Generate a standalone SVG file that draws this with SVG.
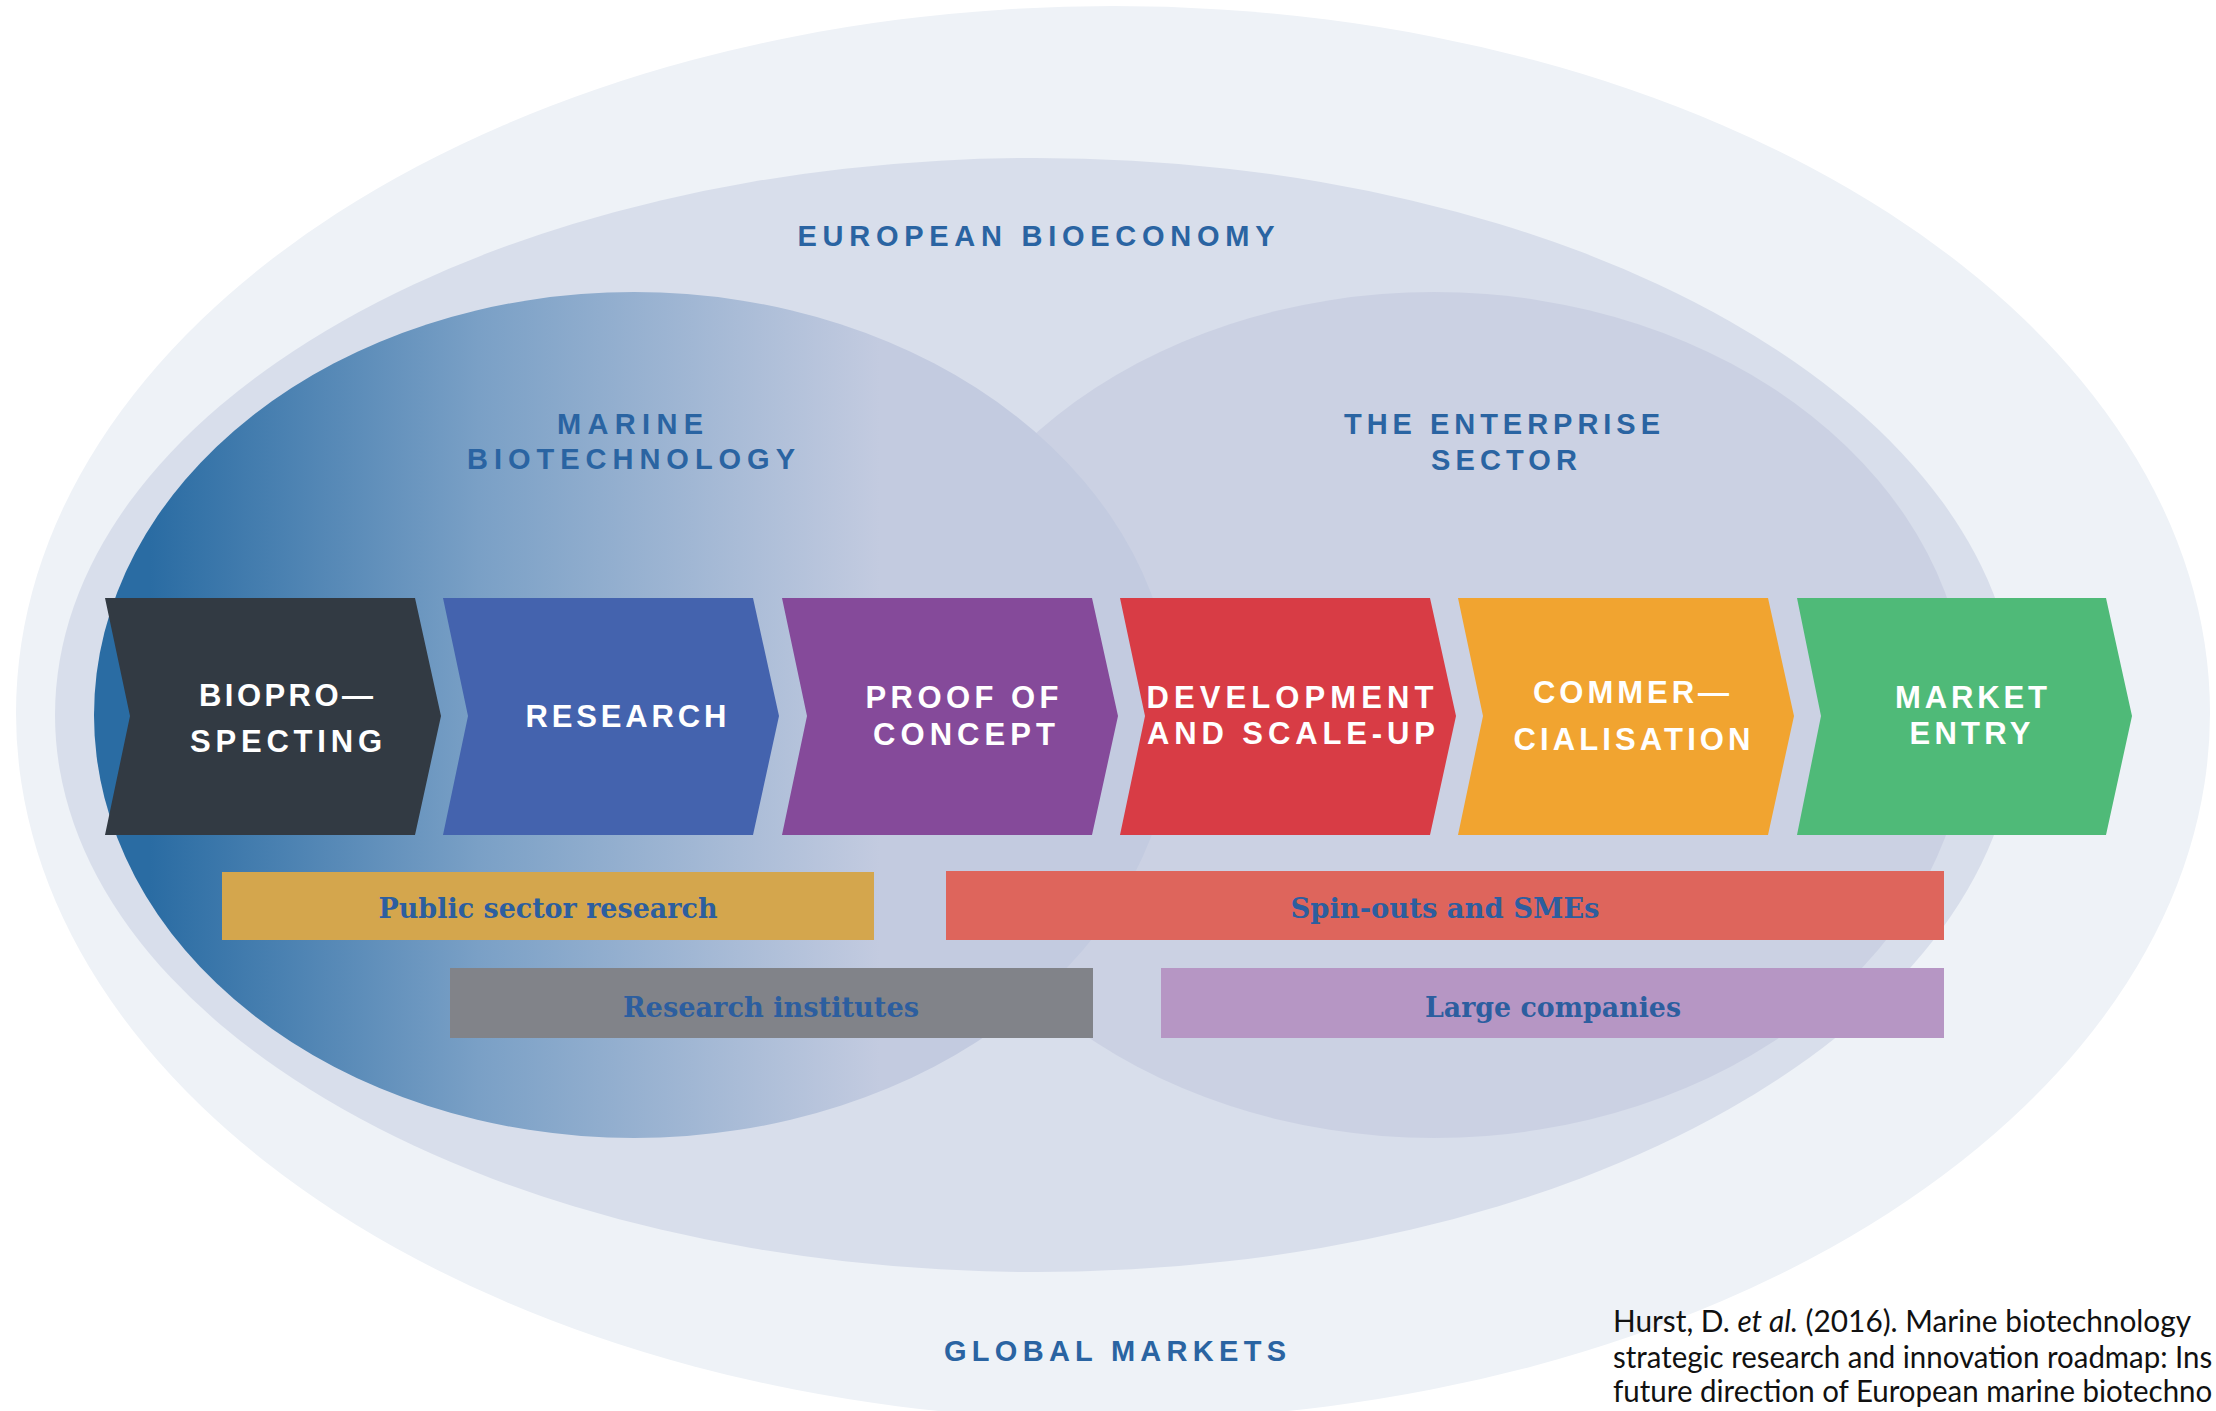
<svg xmlns="http://www.w3.org/2000/svg" width="2216" height="1411" viewBox="0 0 2216 1411">
  <defs>
    <linearGradient id="marineGrad" gradientUnits="userSpaceOnUse" x1="150" y1="0" x2="880" y2="0">
      <stop offset="0" stop-color="#2a6ca3"/>
      <stop offset="0.45" stop-color="#7aa0c6"/>
      <stop offset="1" stop-color="#c3cbe0"/>
    </linearGradient>
    <style>
      .title { font-family: "Liberation Sans", Arial, sans-serif; font-weight: bold; font-size: 29px; fill: #2a64a2; text-anchor: middle; }
      .chev-label { font-family: "Liberation Sans", Arial, sans-serif; font-weight: bold; font-size: 31px; fill: #ffffff; text-anchor: middle; }
      .box-label { font-family: "DejaVu Serif Condensed", "DejaVu Serif", serif; font-weight: bold; font-size: 27px; fill: #2c5e9f; text-anchor: middle; }
      .cite { font-family: Lato, "Liberation Sans", sans-serif; font-size: 30px; fill: #111111; }
    </style>
  </defs>

  <rect x="0" y="0" width="2216" height="1411" fill="#ffffff"/>

  <g id="global-markets">
    <ellipse cx="1113" cy="713" rx="1097" ry="707" fill="#eef2f7"/>
    <text class="title" x="1115" y="1361" textLength="342" lengthAdjust="spacing">GLOBAL MARKETS</text>
  </g>

  <g id="european-bioeconomy">
    <ellipse cx="1036" cy="715" rx="981" ry="557" fill="#d8deeb"/>
    <text class="title" x="1036" y="246" textLength="477" lengthAdjust="spacing">EUROPEAN BIOECONOMY</text>
  </g>

  <g id="enterprise-sector">
    <ellipse cx="1434" cy="715" rx="534" ry="423" fill="#cbd1e3"/>
    <text class="title" x="1502" y="434" textLength="316" lengthAdjust="spacing">THE ENTERPRISE</text>
    <text class="title" x="1504" y="470" textLength="146" lengthAdjust="spacing">SECTOR</text>
  </g>

  <g id="marine-biotechnology">
    <ellipse cx="634" cy="715" rx="540" ry="423" fill="url(#marineGrad)"/>
    <text class="title" x="630" y="434" textLength="146" lengthAdjust="spacing">MARINE</text>
    <text class="title" x="631" y="469" textLength="328" lengthAdjust="spacing">BIOTECHNOLOGY</text>
  </g>

  <g id="connectors"></g>

  <g id="bioprospecting">
    <polygon points="105,598 415,598 441,716 415,835 105,835 130,716" fill="#323a43"/>
    <text class="chev-label" x="286" y="706" textLength="174" lengthAdjust="spacing">BIOPRO—</text>
    <text class="chev-label" x="286" y="752" textLength="192" lengthAdjust="spacing">SPECTING</text>
  </g>

  <g id="research">
    <polygon points="443,598 753,598 779,716 753,835 443,835 468,716" fill="#4463ae"/>
    <text class="chev-label" x="626" y="727" textLength="201" lengthAdjust="spacing">RESEARCH</text>
  </g>

  <g id="proof-of-concept">
    <polygon points="782,598 1092,598 1118,716 1092,835 782,835 807,716" fill="#854a9a"/>
    <text class="chev-label" x="962" y="708" textLength="193" lengthAdjust="spacing">PROOF OF</text>
    <text class="chev-label" x="964" y="745" textLength="182" lengthAdjust="spacing">CONCEPT</text>
  </g>

  <g id="development">
    <polygon points="1120,598 1430,598 1456,716 1430,835 1120,835 1145,716" fill="#d83c45"/>
    <text class="chev-label" x="1290" y="708" textLength="287" lengthAdjust="spacing">DEVELOPMENT</text>
    <text class="chev-label" x="1291" y="744" textLength="288" lengthAdjust="spacing">AND SCALE-UP</text>
  </g>

  <g id="commercialisation">
    <polygon points="1458,598 1768,598 1794,716 1768,835 1458,835 1483,716" fill="#f1a430"/>
    <text class="chev-label" x="1631" y="703" textLength="196" lengthAdjust="spacing">COMMER—</text>
    <text class="chev-label" x="1632" y="750" textLength="237" lengthAdjust="spacing">CIALISATION</text>
  </g>

  <g id="market-entry">
    <polygon points="1797,598 2106,598 2132,716 2106,835 1797,835 1821,716" fill="#4fba78"/>
    <text class="chev-label" x="1971" y="708" textLength="152" lengthAdjust="spacing">MARKET</text>
    <text class="chev-label" x="1970" y="744" textLength="121" lengthAdjust="spacing">ENTRY</text>
  </g>

  <g id="public-sector-research">
    <rect x="222" y="872" width="652" height="68" fill="#d4a64d"/>
    <text class="box-label" x="548" y="918" textLength="339" lengthAdjust="spacingAndGlyphs">Public sector research</text>
  </g>

  <g id="spin-outs">
    <rect x="946" y="871" width="998" height="69" fill="#de655c"/>
    <text class="box-label" x="1445" y="918" textLength="309" lengthAdjust="spacingAndGlyphs">Spin-outs and SMEs</text>
  </g>

  <g id="research-institutes">
    <rect x="450" y="968" width="643" height="70" fill="#818389"/>
    <text class="box-label" x="771" y="1017" textLength="296" lengthAdjust="spacingAndGlyphs">Research institutes</text>
  </g>

  <g id="large-companies">
    <rect x="1161" y="968" width="783" height="70" fill="#b696c4"/>
    <text class="box-label" x="1553" y="1017" textLength="256" lengthAdjust="spacingAndGlyphs">Large companies</text>
  </g>

  <g id="citation" transform="translate(1613,0) scale(0.85,1)">
    <text class="cite" x="0" y="1332" textLength="680" lengthAdjust="spacingAndGlyphs">Hurst, D. <tspan font-style="italic">et al.</tspan> (2016). Marine biotechnology</text>
    <text class="cite" x="0" y="1368" textLength="705" lengthAdjust="spacingAndGlyphs">strategic research and innovation roadmap: Ins</text>
    <text class="cite" x="0" y="1402" textLength="705" lengthAdjust="spacingAndGlyphs">future direction of European marine biotechno</text>
  </g>
</svg>
